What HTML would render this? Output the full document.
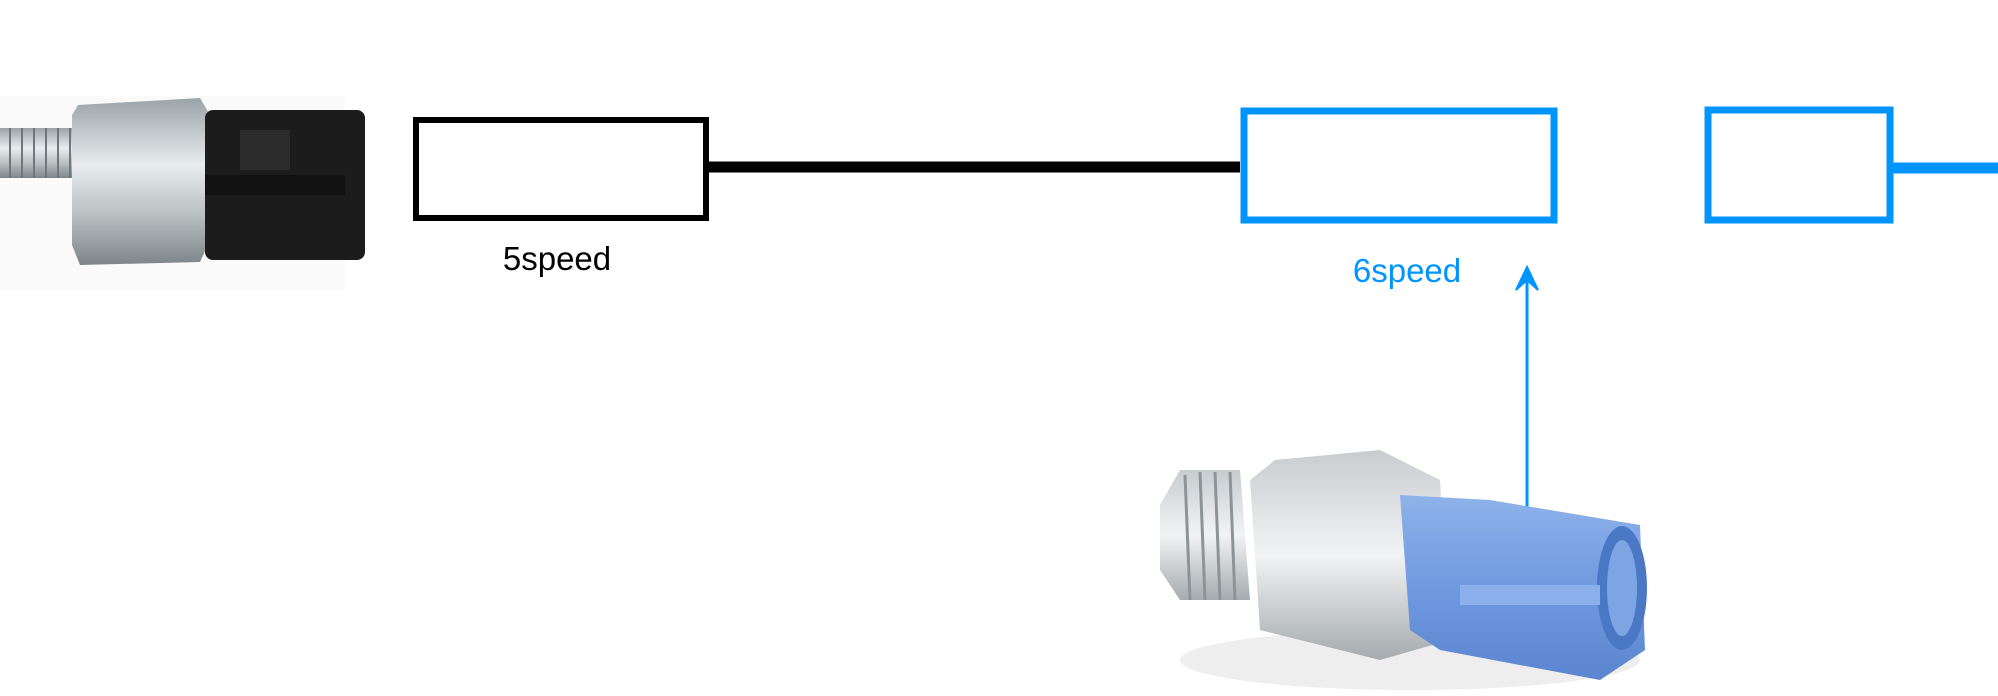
<!DOCTYPE html>
<html><head><style>
html,body{margin:0;padding:0;background:#fff;width:1998px;height:696px;overflow:hidden;font-family:"Liberation Sans",Arial,sans-serif}
</style></head><body>
<svg width="1998" height="696" viewBox="0 0 1998 696" xmlns="http://www.w3.org/2000/svg">
<defs>
<linearGradient id="met" x1="0" y1="0" x2="0" y2="1">
<stop offset="0" stop-color="#9aa3a8"/><stop offset="0.4" stop-color="#e8ecee"/><stop offset="0.7" stop-color="#b9c0c2"/><stop offset="1" stop-color="#7d8588"/>
</linearGradient>
<linearGradient id="met2" x1="0" y1="0" x2="0" y2="1">
<stop offset="0" stop-color="#c8cccf"/><stop offset="0.5" stop-color="#f2f3f4"/><stop offset="1" stop-color="#a5abae"/>
</linearGradient>
<linearGradient id="blu" x1="0" y1="0" x2="0" y2="1">
<stop offset="0" stop-color="#8fb3ea"/><stop offset="0.5" stop-color="#6f9ae0"/><stop offset="1" stop-color="#5b86cf"/>
</linearGradient>
</defs>
<rect x="0" y="96" width="345" height="194" fill="#fafafa"/>
<rect x="0" y="128" width="85" height="50" fill="url(#met)"/>
<g stroke="#6f777a" stroke-width="2">
<line x1="10" y1="128" x2="10" y2="178"/><line x1="22" y1="128" x2="22" y2="178"/><line x1="34" y1="128" x2="34" y2="178"/><line x1="46" y1="128" x2="46" y2="178"/><line x1="58" y1="128" x2="58" y2="178"/><line x1="70" y1="128" x2="70" y2="178"/>
</g>
<path d="M78 105 L200 98 L210 115 L210 240 L200 262 L80 265 L72 245 L72 115 Z" fill="url(#met)"/>
<rect x="205" y="110" width="160" height="150" rx="8" fill="#1c1c1c"/>
<rect x="240" y="130" width="50" height="40" fill="#2b2b2b"/>
<rect x="205" y="175" width="140" height="20" fill="#111"/>
<rect x="416" y="120" width="290" height="98" fill="#fff" stroke="#000" stroke-width="6"/>
<line x1="709" y1="167" x2="1240" y2="167" stroke="#000" stroke-width="11"/>
<text x="557" y="270" font-size="33" text-anchor="middle" fill="#000" font-family="Liberation Sans, Arial, sans-serif">5speed</text>
<rect x="1244" y="111" width="310" height="109" fill="#fff" stroke="#0094ff" stroke-width="7"/>
<rect x="1708" y="110" width="182" height="110" fill="#fff" stroke="#0094ff" stroke-width="7"/>
<line x1="1893" y1="168" x2="1998" y2="168" stroke="#0094ff" stroke-width="11"/>
<text x="1407" y="282" font-size="33" text-anchor="middle" fill="#0094ff" font-family="Liberation Sans, Arial, sans-serif">6speed</text>
<line x1="1527" y1="514" x2="1527" y2="270" stroke="#0094ff" stroke-width="3"/>
<path d="M1516 290 L1527 267 L1538 290 L1527 280 Z" fill="#0094ff" stroke="#0094ff" stroke-width="2"/>
<ellipse cx="1410" cy="660" rx="230" ry="30" fill="#eeeeee"/>
<path d="M1160 505 L1180 470 L1240 470 L1250 600 L1180 600 L1160 570 Z" fill="url(#met2)"/>
<g stroke="#8d9396" stroke-width="3">
<line x1="1185" y1="475" x2="1190" y2="600"/><line x1="1200" y1="472" x2="1205" y2="600"/><line x1="1215" y1="472" x2="1220" y2="600"/><line x1="1230" y1="472" x2="1235" y2="600"/>
</g>
<path d="M1275 460 L1380 450 L1440 480 L1450 640 L1380 660 L1260 630 L1250 480 Z" fill="url(#met2)"/>
<path d="M1400 495 L1490 500 L1640 525 L1645 650 L1600 680 L1440 650 L1410 630 Z" fill="url(#blu)"/>
<ellipse cx="1622" cy="588" rx="25" ry="62" fill="#4a78c4"/>
<ellipse cx="1622" cy="588" rx="15" ry="48" fill="#7da4e3"/>
<rect x="1460" y="585" width="140" height="20" fill="#8cb0ec"/>
</svg>
</body></html>
